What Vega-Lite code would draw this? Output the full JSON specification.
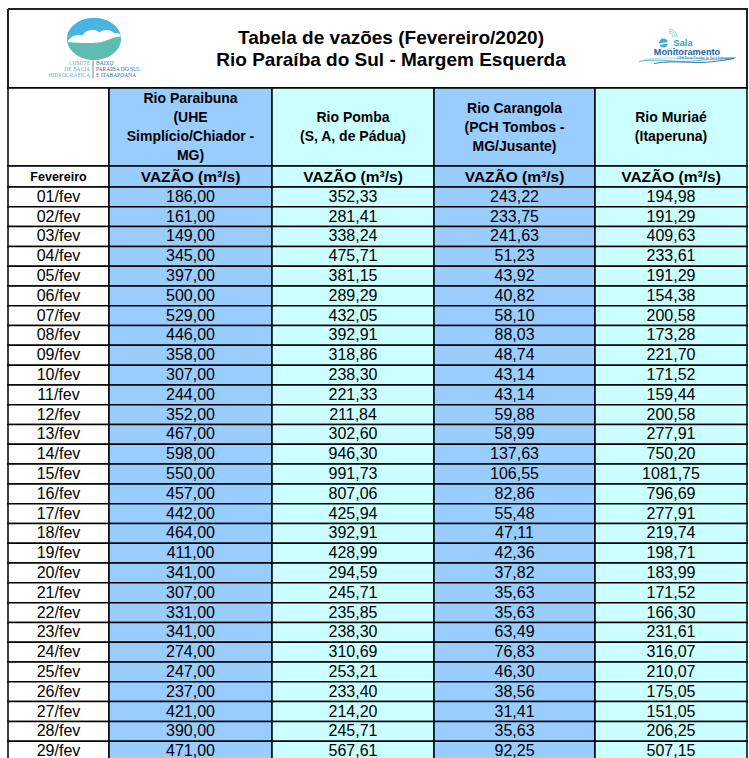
{
  "$schema": "https://vega.github.io/schema/vega-lite/v6.json",
  "padding": {"left": 7, "top": 8, "right": 2, "bottom": 0},
  "background": "#FFFFFF",
  "columns": 5,
  "spacing": 0,
  "bounds": "flush",
  "config": {
    "font": "Liberation Sans",
    "view": {"stroke": null},
    "concat": {"spacing": 0},
    "locale": {"number": {"decimal": ",", "thousands": ".", "grouping": [3], "currency": ["R$ ", ""]}},
    "text": {"font": "Liberation Sans", "fill": "#000000"}
  },
  "datasets": {
    "vazoes": [
      {"dia": "01/fev", "paraibuna": 186.00, "pomba": 352.33, "carangola": 243.22, "muriae": 194.98},
      {"dia": "02/fev", "paraibuna": 161.00, "pomba": 281.41, "carangola": 233.75, "muriae": 191.29},
      {"dia": "03/fev", "paraibuna": 149.00, "pomba": 338.24, "carangola": 241.63, "muriae": 409.63},
      {"dia": "04/fev", "paraibuna": 345.00, "pomba": 475.71, "carangola": 51.23, "muriae": 233.61},
      {"dia": "05/fev", "paraibuna": 397.00, "pomba": 381.15, "carangola": 43.92, "muriae": 191.29},
      {"dia": "06/fev", "paraibuna": 500.00, "pomba": 289.29, "carangola": 40.82, "muriae": 154.38},
      {"dia": "07/fev", "paraibuna": 529.00, "pomba": 432.05, "carangola": 58.10, "muriae": 200.58},
      {"dia": "08/fev", "paraibuna": 446.00, "pomba": 392.91, "carangola": 88.03, "muriae": 173.28},
      {"dia": "09/fev", "paraibuna": 358.00, "pomba": 318.86, "carangola": 48.74, "muriae": 221.70},
      {"dia": "10/fev", "paraibuna": 307.00, "pomba": 238.30, "carangola": 43.14, "muriae": 171.52},
      {"dia": "11/fev", "paraibuna": 244.00, "pomba": 221.33, "carangola": 43.14, "muriae": 159.44},
      {"dia": "12/fev", "paraibuna": 352.00, "pomba": 211.84, "carangola": 59.88, "muriae": 200.58},
      {"dia": "13/fev", "paraibuna": 467.00, "pomba": 302.60, "carangola": 58.99, "muriae": 277.91},
      {"dia": "14/fev", "paraibuna": 598.00, "pomba": 946.30, "carangola": 137.63, "muriae": 750.20},
      {"dia": "15/fev", "paraibuna": 550.00, "pomba": 991.73, "carangola": 106.55, "muriae": 1081.75},
      {"dia": "16/fev", "paraibuna": 457.00, "pomba": 807.06, "carangola": 82.86, "muriae": 796.69},
      {"dia": "17/fev", "paraibuna": 442.00, "pomba": 425.94, "carangola": 55.48, "muriae": 277.91},
      {"dia": "18/fev", "paraibuna": 464.00, "pomba": 392.91, "carangola": 47.11, "muriae": 219.74},
      {"dia": "19/fev", "paraibuna": 411.00, "pomba": 428.99, "carangola": 42.36, "muriae": 198.71},
      {"dia": "20/fev", "paraibuna": 341.00, "pomba": 294.59, "carangola": 37.82, "muriae": 183.99},
      {"dia": "21/fev", "paraibuna": 307.00, "pomba": 245.71, "carangola": 35.63, "muriae": 171.52},
      {"dia": "22/fev", "paraibuna": 331.00, "pomba": 235.85, "carangola": 35.63, "muriae": 166.30},
      {"dia": "23/fev", "paraibuna": 341.00, "pomba": 238.30, "carangola": 63.49, "muriae": 231.61},
      {"dia": "24/fev", "paraibuna": 274.00, "pomba": 310.69, "carangola": 76.83, "muriae": 316.07},
      {"dia": "25/fev", "paraibuna": 247.00, "pomba": 253.21, "carangola": 46.30, "muriae": 210.07},
      {"dia": "26/fev", "paraibuna": 237.00, "pomba": 233.40, "carangola": 38.56, "muriae": 175.05},
      {"dia": "27/fev", "paraibuna": 421.00, "pomba": 214.20, "carangola": 31.41, "muriae": 151.05},
      {"dia": "28/fev", "paraibuna": 390.00, "pomba": 245.71, "carangola": 35.63, "muriae": 206.25},
      {"dia": "29/fev", "paraibuna": 471.00, "pomba": 567.61, "carangola": 92.25, "muriae": 507.15}
    ]
  },
  "concat": [
    {
      "width": 101, "height": 79,
      "data": {"values": [{}]},
      "layer": [
        {"mark": {"type": "rect", "fill": "transparent", "stroke": "#222222", "strokeWidth": 2, "strokeDash": [101, 79, 180, 0]}, "encoding": {}},
        {"mark": {"type": "point", "shape": "M8.5,-9.5A27,21 0 1 1 62.5,-9.5A27,21 0 1 1 8.5,-9.5Z", "size": 4, "filled": true, "fill": "#5EBDB0", "strokeWidth": 0, "opacity": 1}, "encoding": {}},
        {"mark": {"type": "point", "shape": "M8.88,-13A27,21 0 0 1 62.12,-13Z", "size": 4, "filled": true, "fill": "#48B4E4", "strokeWidth": 0, "opacity": 1}, "encoding": {}},
        {"mark": {"type": "point", "shape": "M9.5,-8C14,-13 19,-15 24,-13C27,-19 36,-21 41,-16C45,-20 53,-19 56,-15C59,-16 61,-15 62.3,-13L62.3,-12C54,-12 48,-7 40,-6C30,-5 21,-5.5 9.5,-6.5Z", "size": 4, "filled": true, "fill": "#FFFFFF", "strokeWidth": 0, "opacity": 1}, "encoding": {}},
        {"mark": {"type": "point", "shape": "M34.5,12L34.5,30", "size": 4, "filled": false, "stroke": "#2C74A8", "strokeWidth": 0.8, "opacity": 1}, "encoding": {}},
        {"mark": {"type": "text", "text": ["COMITÊ", "DE BACIA", "HIDROGRÁFICA"], "align": "right", "dx": 31.5, "dy": 14.5, "lineHeight": 6, "fontSize": 5.5, "font": "Liberation Serif", "fill": "#58B4DF"}, "encoding": {}},
        {"mark": {"type": "text", "text": ["BAIXO", "PARAÍBA DO SUL", "E ITABAPOANA"], "align": "left", "dx": 37.5, "dy": 14.5, "lineHeight": 6, "fontSize": 5.5, "font": "Liberation Serif", "fill": "#2C74A8"}, "encoding": {}}
      ]
    },
    {
      "width": 163, "height": 79,
      "data": {"values": [{}]},
      "mark": {"type": "rect", "fill": "transparent", "stroke": "#222222", "strokeWidth": 2, "strokeDash": [163, 79]},
      "encoding": {}
    },
    {
      "width": 162, "height": 79,
      "data": {"values": [{}]},
      "layer": [
        {"mark": {"type": "rect", "fill": "transparent", "stroke": "#222222", "strokeWidth": 2, "strokeDash": [162, 79]}, "encoding": {}},
        {"mark": {"type": "text", "text": ["Tabela de vazões (Fevereiro/2020)", "Rio Paraíba do Sul - Margem Esquerda"], "fontSize": 19, "fontWeight": "bold", "lineHeight": 22, "dx": 38, "dy": -11}, "encoding": {}}
      ]
    },
    {
      "width": 161, "height": 79,
      "data": {"values": [{}]},
      "mark": {"type": "rect", "fill": "transparent", "stroke": "#222222", "strokeWidth": 2, "strokeDash": [161, 79]},
      "encoding": {}
    },
    {
      "width": 152, "height": 79,
      "data": {"values": [{}]},
      "layer": [
        {"mark": {"type": "rect", "fill": "transparent", "stroke": "#222222", "strokeWidth": 2, "strokeDash": [383, 79]}, "encoding": {}},
        {"mark": {"type": "point", "shape": "M-2,-15.5A4,4 0 0 1 2,-11.5M-2,-17.5A6,6 0 0 1 4,-11.5M-2,-19.5A8,8 0 0 1 6,-11.5", "size": 4, "filled": false, "stroke": "#8ACFD6", "strokeWidth": 1, "opacity": 1}, "encoding": {}},
        {"mark": {"type": "point", "shape": "M-12,-5.5A4.5,4.5 0 1 1 -3,-5.5A4.5,4.5 0 1 1 -12,-5.5Z", "size": 4, "filled": true, "fill": "#3FB0C8", "strokeWidth": 0, "opacity": 1}, "encoding": {}},
        {"mark": {"type": "point", "shape": "M-12,-5L-3,-6.5L-3,-5L-12,-3.5Z", "size": 4, "filled": true, "fill": "#FFFFFF", "strokeWidth": 0, "opacity": 1}, "encoding": {}},
        {"mark": {"type": "point", "shape": "M-27,11C-7,8 13,11 33,10", "size": 4, "filled": false, "stroke": "#A8DDE0", "strokeWidth": 1, "opacity": 1}, "encoding": {}},
        {"mark": {"type": "point", "shape": "M-32,13C-12,9 8,15 28,12C43,10 55,11 65,9", "size": 4, "filled": false, "stroke": "#6CC5C9", "strokeWidth": 1.2, "opacity": 1}, "encoding": {}},
        {"mark": {"type": "point", "shape": "M-17,15C3,11 23,16 43,13C51,12 58,11 63,10", "size": 4, "filled": false, "stroke": "#2A5DA8", "strokeWidth": 0.9, "opacity": 1}, "encoding": {}},
        {"mark": {"type": "text", "text": "Sala", "fontSize": 9.5, "fontWeight": "bold", "fill": "#36A9C6", "dx": 12, "dy": -5.5}, "encoding": {}},
        {"mark": {"type": "text", "text": "Monitoramento", "fontSize": 9.2, "fontWeight": "bold", "fill": "#1F5FA8", "dx": 16, "dy": 3.5}, "encoding": {}},
        {"mark": {"type": "text", "text": "CBH Baixo Paraíba do Sul e Itabapoana", "fontSize": 3.2, "fill": "#1F5FA8", "dx": 34.5, "dy": 9}, "encoding": {}}
      ]
    },
    {"width": 101, "height": 78, "view": {"fill": "#FFFFFF", "stroke": "#000000", "strokeWidth": 1.5}, "data": {"values": [{}]}, "mark": {"type": "text", "text": ""}, "encoding": {}},
    {"width": 163, "height": 78, "view": {"fill": "#99CCFF", "stroke": "#000000", "strokeWidth": 1.5}, "data": {"values": [{}]}, "mark": {"type": "text", "text": ["Rio Paraibuna", "(UHE", "Simplício/Chiador -", "MG)"], "fontSize": 14, "fontWeight": "bold", "lineHeight": 19, "dy": -28}, "encoding": {}},
    {"width": 162, "height": 78, "view": {"fill": "#CCFFFF", "stroke": "#000000", "strokeWidth": 1.5}, "data": {"values": [{}]}, "mark": {"type": "text", "text": ["Rio Pomba", "(S, A, de Pádua)"], "fontSize": 14, "fontWeight": "bold", "lineHeight": 19, "dy": -9}, "encoding": {}},
    {"width": 161, "height": 78, "view": {"fill": "#99CCFF", "stroke": "#000000", "strokeWidth": 1.5}, "data": {"values": [{}]}, "mark": {"type": "text", "text": ["Rio Carangola", "(PCH Tombos -", "MG/Jusante)"], "fontSize": 14, "fontWeight": "bold", "lineHeight": 19, "dy": -18.5}, "encoding": {}},
    {"width": 152, "height": 78, "view": {"fill": "#CCFFFF", "stroke": "#000000", "strokeWidth": 1.5}, "data": {"values": [{}]}, "mark": {"type": "text", "text": ["Rio Muriaé", "(Itaperuna)"], "fontSize": 14, "fontWeight": "bold", "lineHeight": 19, "dy": -9}, "encoding": {}},
    {"width": 101, "height": 21, "view": {"fill": "#FFFFFF", "stroke": "#000000", "strokeWidth": 1.5}, "data": {"values": [{}]}, "mark": {"type": "text", "text": "Fevereiro", "fontSize": 12.5, "fontWeight": "bold"}, "encoding": {}},
    {"width": 163, "height": 21, "view": {"fill": "#99CCFF", "stroke": "#000000", "strokeWidth": 1.5}, "data": {"values": [{}]}, "mark": {"type": "text", "text": "VAZÃO (m³/s)", "fontSize": 15.5, "fontWeight": "bold"}, "encoding": {}},
    {"width": 162, "height": 21, "view": {"fill": "#CCFFFF", "stroke": "#000000", "strokeWidth": 1.5}, "data": {"values": [{}]}, "mark": {"type": "text", "text": "VAZÃO (m³/s)", "fontSize": 15.5, "fontWeight": "bold"}, "encoding": {}},
    {"width": 161, "height": 21, "view": {"fill": "#99CCFF", "stroke": "#000000", "strokeWidth": 1.5}, "data": {"values": [{}]}, "mark": {"type": "text", "text": "VAZÃO (m³/s)", "fontSize": 15.5, "fontWeight": "bold"}, "encoding": {}},
    {"width": 152, "height": 21, "view": {"fill": "#CCFFFF", "stroke": "#000000", "strokeWidth": 1.5}, "data": {"values": [{}]}, "mark": {"type": "text", "text": "VAZÃO (m³/s)", "fontSize": 15.5, "fontWeight": "bold"}, "encoding": {}},
    {
      "width": 101, "height": 574,
      "data": {"name": "vazoes"},
      "encoding": {"y": {"field": "dia", "type": "nominal", "axis": null, "scale": {"paddingInner": 0, "paddingOuter": 0}}},
      "layer": [
        {"mark": {"type": "rect", "fill": "#FFFFFF", "stroke": "#000000", "strokeWidth": 1.5}},
        {"mark": {"type": "text", "fontSize": 16}, "encoding": {"text": {"field": "dia", "type": "nominal"}}}
      ]
    },
    {
      "width": 163, "height": 574,
      "data": {"name": "vazoes"},
      "encoding": {"y": {"field": "dia", "type": "nominal", "axis": null, "scale": {"paddingInner": 0, "paddingOuter": 0}}},
      "layer": [
        {"mark": {"type": "rect", "fill": "#99CCFF", "stroke": "#000000", "strokeWidth": 1.5}},
        {"mark": {"type": "text", "fontSize": 16}, "encoding": {"text": {"field": "paraibuna", "type": "quantitative", "format": ".2f"}}}
      ]
    },
    {
      "width": 162, "height": 574,
      "data": {"name": "vazoes"},
      "encoding": {"y": {"field": "dia", "type": "nominal", "axis": null, "scale": {"paddingInner": 0, "paddingOuter": 0}}},
      "layer": [
        {"mark": {"type": "rect", "fill": "#CCFFFF", "stroke": "#000000", "strokeWidth": 1.5}},
        {"mark": {"type": "text", "fontSize": 16}, "encoding": {"text": {"field": "pomba", "type": "quantitative", "format": ".2f"}}}
      ]
    },
    {
      "width": 161, "height": 574,
      "data": {"name": "vazoes"},
      "encoding": {"y": {"field": "dia", "type": "nominal", "axis": null, "scale": {"paddingInner": 0, "paddingOuter": 0}}},
      "layer": [
        {"mark": {"type": "rect", "fill": "#99CCFF", "stroke": "#000000", "strokeWidth": 1.5}},
        {"mark": {"type": "text", "fontSize": 16}, "encoding": {"text": {"field": "carangola", "type": "quantitative", "format": ".2f"}}}
      ]
    },
    {
      "width": 152, "height": 574,
      "data": {"name": "vazoes"},
      "encoding": {"y": {"field": "dia", "type": "nominal", "axis": null, "scale": {"paddingInner": 0, "paddingOuter": 0}}},
      "layer": [
        {"mark": {"type": "rect", "fill": "#CCFFFF", "stroke": "#000000", "strokeWidth": 1.5}},
        {"mark": {"type": "text", "fontSize": 16}, "encoding": {"text": {"field": "muriae", "type": "quantitative", "format": ".2f"}}}
      ]
    }
  ]
}
